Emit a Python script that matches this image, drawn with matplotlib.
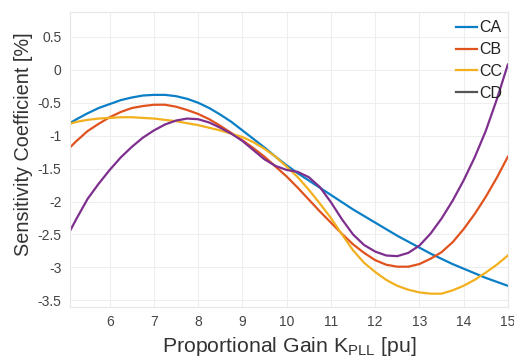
import matplotlib
matplotlib.use('Agg')
import matplotlib.pyplot as plt
from matplotlib.lines import Line2D

plt.rcParams['font.family'] = ['Liberation Sans', 'DejaVu Sans']
plt.rcParams['axes.unicode_minus'] = False

# values
k_pll = [5.1, 5.25, 5.5, 5.75, 6.0, 6.25, 6.5, 6.75, 7.0, 7.25, 7.5, 7.75,
         8.0, 8.25, 8.5, 8.75, 9.0, 9.25, 9.5, 9.75, 10.0, 10.25, 10.5, 10.75,
         11.0, 11.25, 11.5, 11.75, 12.0, 12.25, 12.5, 12.75, 13.0, 13.25, 13.5,
         13.75, 14.0, 14.25, 14.5, 14.75, 15.0]

ca = [-0.81, -0.75, -0.66, -0.58, -0.52, -0.46, -0.42, -0.39, -0.38, -0.38, -0.40, -0.44,
      -0.50, -0.58, -0.68, -0.79, -0.92, -1.05, -1.18, -1.32, -1.45, -1.57, -1.68, -1.79,
      -1.90, -2.01, -2.12, -2.22, -2.32, -2.42, -2.52, -2.61, -2.70, -2.79, -2.87,
      -2.95, -3.02, -3.09, -3.16, -3.22, -3.28]
cb = [-1.18, -1.08, -0.93, -0.82, -0.72, -0.64, -0.58, -0.55, -0.53, -0.53, -0.56, -0.61,
      -0.67, -0.75, -0.85, -0.96, -1.07, -1.19, -1.32, -1.47, -1.62, -1.79, -1.97, -2.15,
      -2.32, -2.49, -2.65, -2.78, -2.89, -2.96, -2.99, -2.99, -2.95, -2.87, -2.77,
      -2.62, -2.42, -2.19, -1.93, -1.64, -1.32]
cc = [-0.82, -0.79, -0.76, -0.74, -0.73, -0.72, -0.72, -0.73, -0.74, -0.76, -0.78, -0.81,
      -0.84, -0.88, -0.92, -0.97, -1.02, -1.10, -1.20, -1.32, -1.47, -1.63, -1.82, -2.03,
      -2.25, -2.50, -2.74, -2.93, -3.07, -3.19, -3.28, -3.34, -3.38, -3.40, -3.40,
      -3.35, -3.28, -3.19, -3.08, -2.96, -2.82]
cd = [-2.45, -2.26, -1.96, -1.73, -1.52, -1.33, -1.17, -1.03, -0.92, -0.83, -0.77, -0.74,
      -0.75, -0.80, -0.88, -0.97, -1.08, -1.22, -1.36, -1.46, -1.52, -1.55, -1.63, -1.78,
      -2.01, -2.27, -2.50, -2.66, -2.76, -2.82, -2.83, -2.78, -2.67, -2.49, -2.26,
      -1.99, -1.68, -1.33, -0.93, -0.45, 0.08]

series_names = ['CA', 'CB', 'CC', 'CD']
series_colors = ['#0a7fc6', '#e0531e', '#f2b01e', '#7e2f8e']
legend_colors = ['#0a7fc6', '#e0531e', '#f2b01e', '#555555']

x_ticks = [6, 7, 8, 9, 10, 11, 12, 13, 14, 15]
y_ticks = [0.5, 0, -0.5, -1, -1.5, -2, -2.5, -3, -3.5]
y_tick_labels = ['0.5', '0', '-0.5', '-1', '-1.5', '-2', '-2.5', '-3', '-3.5']

fig = plt.figure(figsize=(5.14, 3.61), dpi=100)
ax = fig.add_axes([0.136, 0.15, 0.852, 0.817])

for values, color in zip([ca, cb, cc, cd], series_colors):
    ax.plot(k_pll, values, color=color, linewidth=1.6)

ax.set_xlim(5.1, 15.0)
ax.set_ylim(-3.6, 0.88)
ax.set_xticks(x_ticks)
ax.set_yticks(y_ticks)
ax.set_yticklabels(y_tick_labels)
ax.tick_params(length=0, labelsize=10, labelcolor='#444444', pad=6)
ax.grid(True, color='#eeeeee', linewidth=0.8)
ax.set_axisbelow(True)
for spine in ax.spines.values():
    spine.set_color('#e6e6e6')
    spine.set_linewidth(0.8)

ax.set_xlabel('Proportional Gain K$_{\\mathregular{PLL}}$ [pu]',
              fontsize=15.3, color='#333333', labelpad=4)
ax.set_ylabel('Sensitivity Coefficient [%]', fontsize=14.3, color='#333333')
ax.yaxis.set_label_coords(-0.085, 0.553)

handles = [Line2D([0], [0], color=c, linewidth=1.6) for c in legend_colors]
ax.legend(handles, series_names, loc='upper right', bbox_to_anchor=(1.02, 1.02),
          frameon=False, fontsize=11.5, handlelength=1.3, handletextpad=0.15,
          labelspacing=0.42, labelcolor='#222222')

fig.savefig('out.png', dpi=100)
